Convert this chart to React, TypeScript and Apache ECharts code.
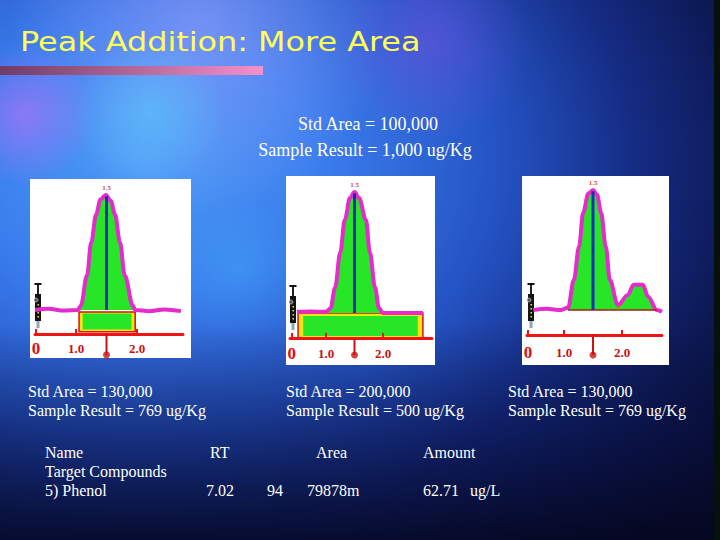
import React, { useEffect, useRef } from "react";
import * as echarts from "echarts";

// ---------- texts ----------
const TITLE = "Peak Addition: More Area";
const STD_LINES = ["Std Area = 100,000", "Sample Result = 1,000 ug/Kg"];
const PANEL_CAPTIONS = [
  ["Std Area = 130,000", "Sample Result = 769 ug/Kg"],
  ["Std Area = 200,000", "Sample Result = 500 ug/Kg"],
  ["Std Area = 130,000", "Sample Result = 769 ug/Kg"],
];
const TABLE_HEADERS = ["Name", "RT", "Area", "Amount"];
const TABLE_ROW_LABELS = ["Target Compounds", "5) Phenol"];
const PHENOL_VALUES = ["7.02", "94", "79878m", "62.71", "ug/L"];

// ---------- axis ticks ----------
const AXIS_LABELS = ["0", "1.0", "2.0"];
const TICKS_A = [0.344, 1, 2];
const TICKS_B = [0.4, 1, 2];
const TICKS_C = [0.38, 1, 2];

// ---------- peaks ----------
const PEAK_RT = 1.5;
const PEAK_LABEL = "1.5";

const PEAK_A: number[][] = [
  [0.33, 0.0], [0.55, 0.01], [0.8, -0.005], [1.03, 0.0], [1.08, 0.04], [1.18, 0.3],
  [1.25, 0.59], [1.33, 0.83], [1.4, 0.96], [1.49, 1.0], [1.57, 0.95], [1.64, 0.83],
  [1.72, 0.59], [1.8, 0.3], [1.93, 0.04], [1.97, 0.0], [2.2, -0.01], [2.45, 0.005], [2.72, -0.01],
];
const PEAK_B: number[][] = [
  [0.49, 0.01], [0.75, 0.012], [1.0, 0.01], [1.08, 0.04], [1.16, 0.21], [1.25, 0.5],
  [1.33, 0.77], [1.42, 0.95], [1.5, 1.0], [1.58, 0.95], [1.7, 0.77], [1.77, 0.5],
  [1.86, 0.21], [1.93, 0.04], [2.0, 0.0], [2.35, 0.0], [2.7, 0.0],
];
const PEAK_C: number[][] = [
  [0.47, 0.0], [0.7, 0.01], [0.95, 0.0], [1.07, 0.02], [1.17, 0.25], [1.26, 0.53],
  [1.33, 0.81], [1.42, 0.97], [1.5, 1.0], [1.57, 0.96], [1.64, 0.81], [1.72, 0.53],
  [1.79, 0.25], [1.93, 0.04], [2.1, 0.125], [2.2, 0.21], [2.36, 0.21], [2.45, 0.11],
  [2.6, 0.0], [2.69, -0.015],
];

// area boxes [x0, y0, x1, y1, kind] kind 0 = outer, 1 = inner
const RECTS_A: number[][] = [
  [1.05, -0.017, 1.97, -0.19, 0],
  [1.11, -0.03, 1.91, -0.17, 1],
];
const RECTS_B: number[][] = [
  [0.51, 0.0, 2.7, -0.207, 0],
  [0.6, -0.025, 2.61, -0.19, 1],
];
const BASELINE_C: number[][] = [[1.07, 0.0], [2.6, 0.0]];
const VALLEY_C: number[][] = [[1.93, 0.04], [1.93, 0.0]];

// ---------- layout ----------
const PANELS = [
  { box: [30, 179, 161, 179], p1: 76, ux: 61, xmin: 0.328, xmax: 2.754, py0: 310, uy: 115, ymin: -0.42, ymax: 1.1, axisVal: -0.209, pinEnd: -0.39, margin: 6, peak: PEAK_A, ticks: TICKS_A, rects: RECTS_A, syringe: [38, 283] },
  { box: [286, 176, 149, 189], p1: 326, ux: 57, xmin: 0.368, xmax: 2.86, py0: 313, uy: 121, ymin: -0.38, ymax: 1.1, axisVal: -0.207, pinEnd: -0.347, margin: 7, peak: PEAK_B, ticks: TICKS_B, rects: RECTS_B, syringe: [293, 285] },
  { box: [522, 176, 147, 189], p1: 564, ux: 58, xmin: 0.362, xmax: 2.69, py0: 310, uy: 120, ymin: -0.4, ymax: 1.1, axisVal: -0.208, pinEnd: -0.375, margin: 9, peak: PEAK_C, ticks: TICKS_C, rects: null as number[][] | null, syringe: [531, 283] },
];

const RED = "#ee1414";
const MAGENTA = "#e52bcb";
const GREEN = "#27e627";
const SERIF = "'Liberation Serif', 'Times New Roman', serif";

function syringe(cx: number, top: number) {
  const children: any[] = [
    { type: "rect", shape: { x: cx - 3.5, y: top, width: 7, height: 2 }, style: { fill: "#111" } },
    { type: "rect", shape: { x: cx - 1, y: top + 2, width: 2, height: 9 }, style: { fill: "#222" } },
    { type: "rect", shape: { x: cx - 3, y: top + 11, width: 6, height: 27 }, style: { fill: "#141414" } },
    { type: "circle", shape: { cx: cx - 2, cy: top + 17, r: 2 }, style: { fill: "#555", stroke: "#ddd", lineWidth: 0.6 } },
    { type: "rect", shape: { x: cx - 1.5, y: top + 38, width: 3, height: 7 }, style: { fill: "#8fa6b8" } },
  ];
  [21, 25, 29, 33].forEach((d) => {
    children.push({ type: "rect", shape: { x: cx - 0.5, y: top + d, width: 1.5, height: 1.5 }, style: { fill: "#f0e040" } });
  });
  return { type: "group", z: 3, children: children.map((c) => ({ ...c, z: 3 })) };
}

function glow(cx: number, cy: number, r: number, rgb: string, a: number) {
  return {
    type: "circle",
    z: -9,
    silent: true,
    shape: { cx, cy, r },
    style: {
      fill: new echarts.graphic.RadialGradient(0.5, 0.5, 0.5, [
        { offset: 0, color: `rgba(${rgb},${a})` },
        { offset: 1, color: `rgba(${rgb},0)` },
      ]),
    },
  };
}

function txt(text: string, x: number, y: number, size = 16, align = "left") {
  return {
    type: "text",
    z: 10,
    x,
    y,
    style: { text, fill: "#ffffff", fontSize: size, fontFamily: SERIF, align, verticalAlign: "middle" },
  };
}

export default function App() {
  const ref = useRef<HTMLDivElement>(null);

  useEffect(() => {
    if (!ref.current) return;
    const chart = echarts.init(ref.current, undefined, { renderer: "svg", width: 720, height: 540 });

    const grid: any[] = [];
    const xAxis: any[] = [];
    const yAxis: any[] = [];
    const series: any[] = [];

    PANELS.forEach((p, i) => {
      grid.push({
        left: p.p1 + (p.xmin - 1) * p.ux,
        top: p.py0 - p.ymax * p.uy,
        width: (p.xmax - p.xmin) * p.ux,
        height: (p.ymax - p.ymin) * p.uy,
        containLabel: false,
        outerBoundsMode: "none",
      });
      const ticks = p.ticks;
      xAxis.push({
        gridIndex: i,
        type: "value",
        min: p.xmin,
        max: p.xmax,
        z: 4,
        offset: -(p.axisVal - p.ymin) * p.uy,
        axisLine: { show: true, onZero: false, lineStyle: { color: RED, width: 3 } },
        axisTick: { show: true, inside: true, length: 5, customValues: ticks, lineStyle: { color: RED, width: 2 } },
        axisLabel: {
          show: true,
          customValues: ticks,
          margin: p.margin,
          hideOverlap: false,
          formatter: (v: number) => {
            const idx = ticks.findIndex((t) => Math.abs(t - v) < 1e-6);
            if (idx < 0) return "";
            return idx === 0 ? `{big|${AXIS_LABELS[0]}}` : `{small|${AXIS_LABELS[idx]}}`;
          },
          rich: {
            big: { fontSize: 17, fontFamily: SERIF, color: "#e01010", fontWeight: "bold", lineHeight: 17 },
            small: { fontSize: 13, fontFamily: SERIF, color: "#c81010", fontWeight: "bold", lineHeight: 17 },
          },
        },
        splitLine: { show: false },
      });
      yAxis.push({ gridIndex: i, type: "value", min: p.ymin, max: p.ymax, show: false });

      if (p.rects) {
        series.push({
          type: "custom",
          xAxisIndex: i,
          yAxisIndex: i,
          silent: true,
          z: 2,
          clip: false,
          encode: { x: [0, 2], y: [1, 3] },
          data: p.rects,
          renderItem: (_params: any, api: any) => {
            const a = api.coord([api.value(0), api.value(1)]);
            const b = api.coord([api.value(2), api.value(3)]);
            const kind = api.value(4);
            return {
              type: "rect",
              shape: {
                x: Math.min(a[0], b[0]),
                y: Math.min(a[1], b[1]),
                width: Math.abs(b[0] - a[0]),
                height: Math.abs(b[1] - a[1]),
              },
              style: kind === 0 ? { fill: "#f4e414", stroke: "#d81010", lineWidth: 1.5 } : { fill: GREEN },
            };
          },
        });
      }

      if (i === 2) {
        series.push({
          type: "line", xAxisIndex: i, yAxisIndex: i, data: BASELINE_C, symbol: "none", z: 4, silent: true,
          lineStyle: { color: "#b01818", width: 1.5 },
        });
        series.push({
          type: "line", xAxisIndex: i, yAxisIndex: i, data: VALLEY_C, symbol: "none", z: 4, silent: true,
          lineStyle: { color: "#e86a10", width: 1 },
        });
      }

      series.push({
        type: "line",
        xAxisIndex: i,
        yAxisIndex: i,
        data: p.peak,
        symbol: "none",
        smooth: 0.35,
        smoothMonotone: "x",
        silent: true,
        z: 3,
        lineStyle: { color: MAGENTA, width: 4 },
        areaStyle: { color: GREEN, opacity: 1 },
      });
      series.push({
        type: "line",
        xAxisIndex: i,
        yAxisIndex: i,
        data: [[PEAK_RT, 0], [PEAK_RT, 0.99]],
        symbol: "none",
        silent: true,
        z: 5,
        lineStyle: { color: "#1530b8", width: 3 },
      });
      series.push({
        type: "scatter",
        xAxisIndex: i,
        yAxisIndex: i,
        data: [[PEAK_RT, 1.0]],
        symbolSize: 0,
        silent: true,
        z: 6,
        label: {
          show: true,
          position: "top",
          distance: 4,
          formatter: PEAK_LABEL,
          color: "#c81010",
          fontSize: 7,
          fontWeight: "bold",
          fontFamily: SERIF,
        },
      });
      series.push({
        type: "line",
        xAxisIndex: i,
        yAxisIndex: i,
        data: [[PEAK_RT, p.axisVal], [PEAK_RT, p.pinEnd]],
        symbol: "none",
        silent: true,
        z: 5,
        lineStyle: { color: "#d01010", width: 2 },
      });
      series.push({
        type: "scatter",
        xAxisIndex: i,
        yAxisIndex: i,
        data: [[PEAK_RT, p.pinEnd]],
        symbol: "circle",
        symbolSize: 7,
        silent: true,
        z: 5,
        itemStyle: { color: "#d01010" },
      });
    });

    const graphic: any[] = [
      {
        type: "rect",
        z: -10,
        silent: true,
        shape: { x: 0, y: 0, width: 720, height: 540 },
        style: {
          fill: new echarts.graphic.RadialGradient(0.2, 0.3, 1.0, [
            { offset: 0, color: "#4a9cf6" },
            { offset: 0.25, color: "#3a7ced" },
            { offset: 0.5, color: "#2452c2" },
            { offset: 0.68, color: "#152c84" },
            { offset: 0.84, color: "#0d1852" },
            { offset: 1, color: "#080a28" },
          ]),
        },
      },
      {
        type: "rect",
        z: -9,
        silent: true,
        shape: { x: 0, y: 0, width: 720, height: 540 },
        style: {
          fill: new echarts.graphic.LinearGradient(0, 0, 0, 1, [
            { offset: 0, color: "rgba(8,12,50,0)" },
            { offset: 0.6, color: "rgba(8,12,50,0)" },
            { offset: 0.8, color: "rgba(8,14,60,0.45)" },
            { offset: 1, color: "rgba(4,6,30,0.8)" },
          ]),
        },
      },
      glow(200, 25, 190, "175,170,255", 0.5),
      glow(25, 115, 70, "215,110,250", 0.5),
      glow(430, 40, 100, "140,80,230", 0.4),
      glow(150, 112, 75, "90,225,255", 0.4),
      glow(240, 270, 70, "70,200,255", 0.25),
      { type: "rect", z: -8, silent: true, shape: { x: 714, y: 0, width: 6, height: 540 }, style: { fill: "#06100c" } },
      {
        type: "rect",
        z: 1,
        shape: { x: 0, y: 66, width: 263, height: 9 },
        style: {
          fill: new echarts.graphic.LinearGradient(0, 0, 1, 0, [
            { offset: 0, color: "#6e3c64" },
            { offset: 1, color: "#f590cc" },
          ]),
        },
      },
      {
        type: "text",
        z: 10,
        x: 20,
        y: 42,
        scaleX: 1.18,
        style: {
          text: TITLE,
          fill: "#ffff58",
          fontSize: 27,
          fontFamily: "'DejaVu Sans', Verdana, sans-serif",
          align: "left",
          verticalAlign: "middle",
        },
      },
      txt(STD_LINES[0], 368, 124, 18, "center"),
      txt(STD_LINES[1], 365, 150, 18, "center"),
    ];

    PANELS.forEach((p) => {
      graphic.push({
        type: "rect",
        z: -5,
        silent: true,
        shape: { x: p.box[0], y: p.box[1], width: p.box[2], height: p.box[3] },
        style: { fill: "#ffffff" },
      });
      graphic.push(syringe(p.syringe[0], p.syringe[1]));
    });

    const capX = [28, 286, 508];
    PANEL_CAPTIONS.forEach((c, i) => {
      graphic.push(txt(c[0], capX[i], 391, 16));
      graphic.push(txt(c[1], capX[i], 410, 16));
    });

    const headX = [45, 210, 316, 423];
    TABLE_HEADERS.forEach((h, i) => graphic.push(txt(h, headX[i], 452, 16)));
    graphic.push(txt(TABLE_ROW_LABELS[0], 45, 471, 16));
    graphic.push(txt(TABLE_ROW_LABELS[1], 45, 490, 16));
    const valX = [206, 267, 307, 423, 470];
    PHENOL_VALUES.forEach((v, i) => graphic.push(txt(v, valX[i], 490, 16)));

    chart.setOption({
      animation: false,
      backgroundColor: "#1a3a9a",
      grid,
      xAxis,
      yAxis,
      series,
      graphic,
    });

    return () => chart.dispose();
  }, []);

  return (
    <div
      ref={ref}
      style={{ position: "fixed", left: 0, top: 0, width: 720, height: 540 }}
    />
  );
}
